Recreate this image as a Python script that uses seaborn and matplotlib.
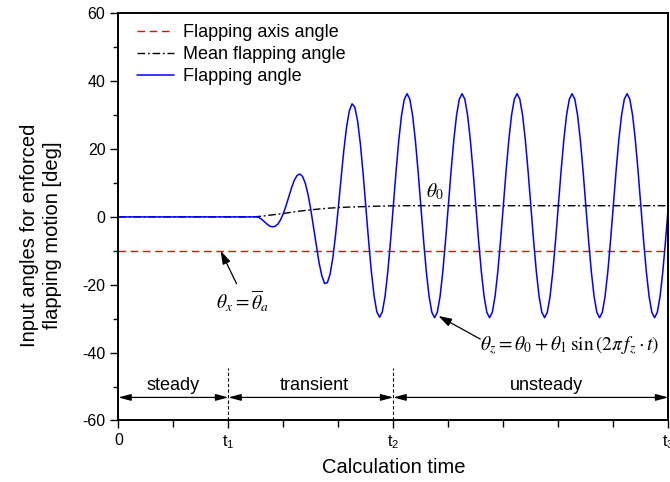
import numpy as np
import pandas as pd
import matplotlib
matplotlib.use("Agg")
import matplotlib.pyplot as plt
import seaborn as sns

# ---------------- data ----------------
x_tick_pos = [0, 2, 5, 10]
x_tick_labels = ['0', r'$\mathregular{t_1}$', r'$\mathregular{t_2}$', r'$\mathregular{t_3}$']
x_minor_pos = [1, 3, 4, 6, 7, 8, 9]
y_major = [-60, -40, -20, 0, 20, 40, 60]
y_minor = [-50, -30, -10, 10, 30, 50]

axis_angle_t = [0, 10]
axis_angle_val = [-10, -10]

mean_t = [0, 2.45, 2.5, 2.6, 2.8, 3.0, 3.2, 3.4, 3.6, 3.8, 4.0, 4.2, 4.4, 4.6,
          4.8, 5.0, 5.2, 5.5, 10]
mean_val = [0, 0, 0.05, 0.2, 0.6, 1.0, 1.5, 1.9, 2.25, 2.55, 2.75, 2.9, 3.0, 3.1,
            3.2, 3.25, 3.3, 3.3, 3.3]

# flapping angle sampled every 0.05 from t = 2.45 to t = 10 (plus the start at t = 0)
flap_time = np.concatenate([[0.0], np.round(np.arange(2.45, 10.0001, 0.05), 2)])
flap_val = [0,
    0, 0.05, -0.13, -0.62, -1.32, -2.07, -2.7, -2.92, -2.78, -2.14, -0.86,
    1.0, 3.34, 5.95, 8.58, 10.82, 12.2, 12.64, 11.91, 9.9, 6.57,
    2.1, -3.13, -8.57, -13.53, -17.29, -19.62, -19.42, -16.9, -12.11, -5.33,
    2.75, 11.35, 19.59, 26.49, 31.24, 33.33, 32.34, 28.3, 21.64, 12.92,
    3.05, -6.93, -16.01, -23.24, -27.95, -29.57, -27.99, -23.36, -16.12, -6.94,
    3.25, 13.46, 22.68, 29.99, 34.68, 36.3, 34.68, 30.0, 22.7, 13.5,
    3.3, -6.9, -16.1, -23.4, -28.1, -29.7, -28.1, -23.4, -16.1, -6.9,
    3.3, 13.5, 22.7, 30.0, 34.7, 36.3, 34.7, 30.0, 22.7, 13.5,
    3.3, -6.9, -16.1, -23.4, -28.1, -29.7, -28.1, -23.4, -16.1, -6.9,
    3.3, 13.5, 22.7, 30.0, 34.7, 36.3, 34.7, 30.0, 22.7, 13.5,
    3.3, -6.9, -16.1, -23.4, -28.1, -29.7, -28.1, -23.4, -16.1, -6.9,
    3.3, 13.5, 22.7, 30.0, 34.7, 36.3, 34.7, 30.0, 22.7, 13.5,
    3.3, -6.9, -16.1, -23.4, -28.1, -29.7, -28.1, -23.4, -16.1, -6.9,
    3.3, 13.5, 22.7, 30.0, 34.7, 36.3, 34.7, 30.0, 22.7, 13.5,
    3.3, -6.9, -16.1, -23.4, -28.1, -29.7, -28.1, -23.4, -16.1, -6.9,
    3.3]

phase_bounds = [0, 2, 5, 10]
phase_names = ['steady', 'transient', 'unsteady']
phase_label_x = [1.0, 3.56, 7.79]
phase_arrow_y = -53.2
phase_label_y = -49.8
phase_line_top = -44.5

series_labels = ['Flapping axis angle', 'Mean flapping angle', 'Flapping angle']

# ---------------- style ----------------
sns.set_theme(style='ticks')
plt.rcParams['font.family'] = ['Liberation Sans', 'DejaVu Sans']
plt.rcParams['mathtext.fontset'] = 'stix'
plt.rcParams['axes.unicode_minus'] = False
for key in ['text.color', 'axes.labelcolor', 'xtick.color', 'ytick.color', 'axes.edgecolor']:
    plt.rcParams[key] = 'black'

fig = plt.figure(figsize=(6.7, 4.82), dpi=100)
ax = fig.add_axes([0.1766, 0.1276, 0.8209, 0.8448])

df_axis = pd.DataFrame({'t': axis_angle_t, 'v': axis_angle_val})
df_mean = pd.DataFrame({'t': mean_t, 'v': mean_val})
df_flap = pd.DataFrame({'t': flap_time, 'v': flap_val})

sns.lineplot(data=df_axis, x='t', y='v', ax=ax, color='#ff0000', lw=1.0,
             linestyle=(0, (5.5, 3.3)), label=series_labels[0], errorbar=None, sort=False)
sns.lineplot(data=df_mean, x='t', y='v', ax=ax, color='black', lw=1.0,
             linestyle=(0, (5.5, 2, 1.3, 2)), label=series_labels[1], errorbar=None, sort=False)
sns.lineplot(data=df_flap, x='t', y='v', ax=ax, color='#0000ff', lw=1.1,
             label=series_labels[2], errorbar=None, sort=False)

ax.set_xlim(0, 10)
ax.set_ylim(-60, 60)
ax.set_xticks(x_tick_pos)
ax.set_xticklabels(x_tick_labels)
ax.set_xticks(x_minor_pos, minor=True)
ax.set_yticks(y_major)
ax.set_yticks(y_minor, minor=True)
ax.tick_params(axis='both', which='major', labelsize=11.5, length=5.8, width=1.0,
               direction='out', color='black', labelcolor='black', pad=3.5)
ax.tick_params(axis='y', which='minor', length=3.6, width=1.0, direction='out', color='black')
ax.tick_params(axis='x', which='minor', length=5.0, width=1.0, direction='out', color='black')
for s in ax.spines.values():
    s.set_linewidth(1.4)
    s.set_color('black')

ax.set_xlabel('Calculation time', fontsize=14.5, labelpad=5)
ax.set_ylabel('Input angles for enforced\nflapping motion [deg]', fontsize=14.5,
              linespacing=1.25)
ax.yaxis.set_label_coords(-0.102, 0.455)

leg = ax.legend(loc='upper left', bbox_to_anchor=(0.0335, 0.973), frameon=False,
                fontsize=13, handlelength=2.05, handletextpad=0.5, labelspacing=0.28,
                borderpad=0, borderaxespad=0)

# phase arrows and separators
for i, name in enumerate(phase_names):
    ax.annotate('', xy=(phase_bounds[i + 1], phase_arrow_y), xytext=(phase_bounds[i], phase_arrow_y),
                arrowprops=dict(arrowstyle='<|-|>,head_length=0.75,head_width=0.2',
                                color='black', lw=0.9, shrinkA=0, shrinkB=0, mutation_scale=10))
    ax.text(phase_label_x[i], phase_label_y, name, ha='center', va='center', fontsize=13)
ax.vlines(phase_bounds[1:3], -60, phase_line_top, colors='black', lw=0.8, linestyles=(0, (3, 2)))

# annotations
arrow_kw = dict(arrowstyle='-|>,head_length=0.8,head_width=0.25', color='black', lw=0.9,
                shrinkA=0, shrinkB=0, mutation_scale=10)
ax.annotate('', xy=(1.86, -10), xytext=(2.15, -19.7), arrowprops=arrow_kw)
ax.text(2.27, -25, r'$\theta_x = \overline{\theta}_a$', ha='center', va='center', fontsize=14)
ax.text(5.76, 7.4, r'$\theta_0$', ha='center', va='center', fontsize=14)
ax.annotate('', xy=(5.82, -29.2), xytext=(6.58, -36.0), arrowprops=arrow_kw)
ax.text(8.21, -38, r'$\theta_z = \theta_0 + \theta_1\,\sin\left(2\pi\, f_z \cdot t\right)$',
        ha='center', va='center', fontsize=14)

fig.savefig('out.png', dpi=100)
